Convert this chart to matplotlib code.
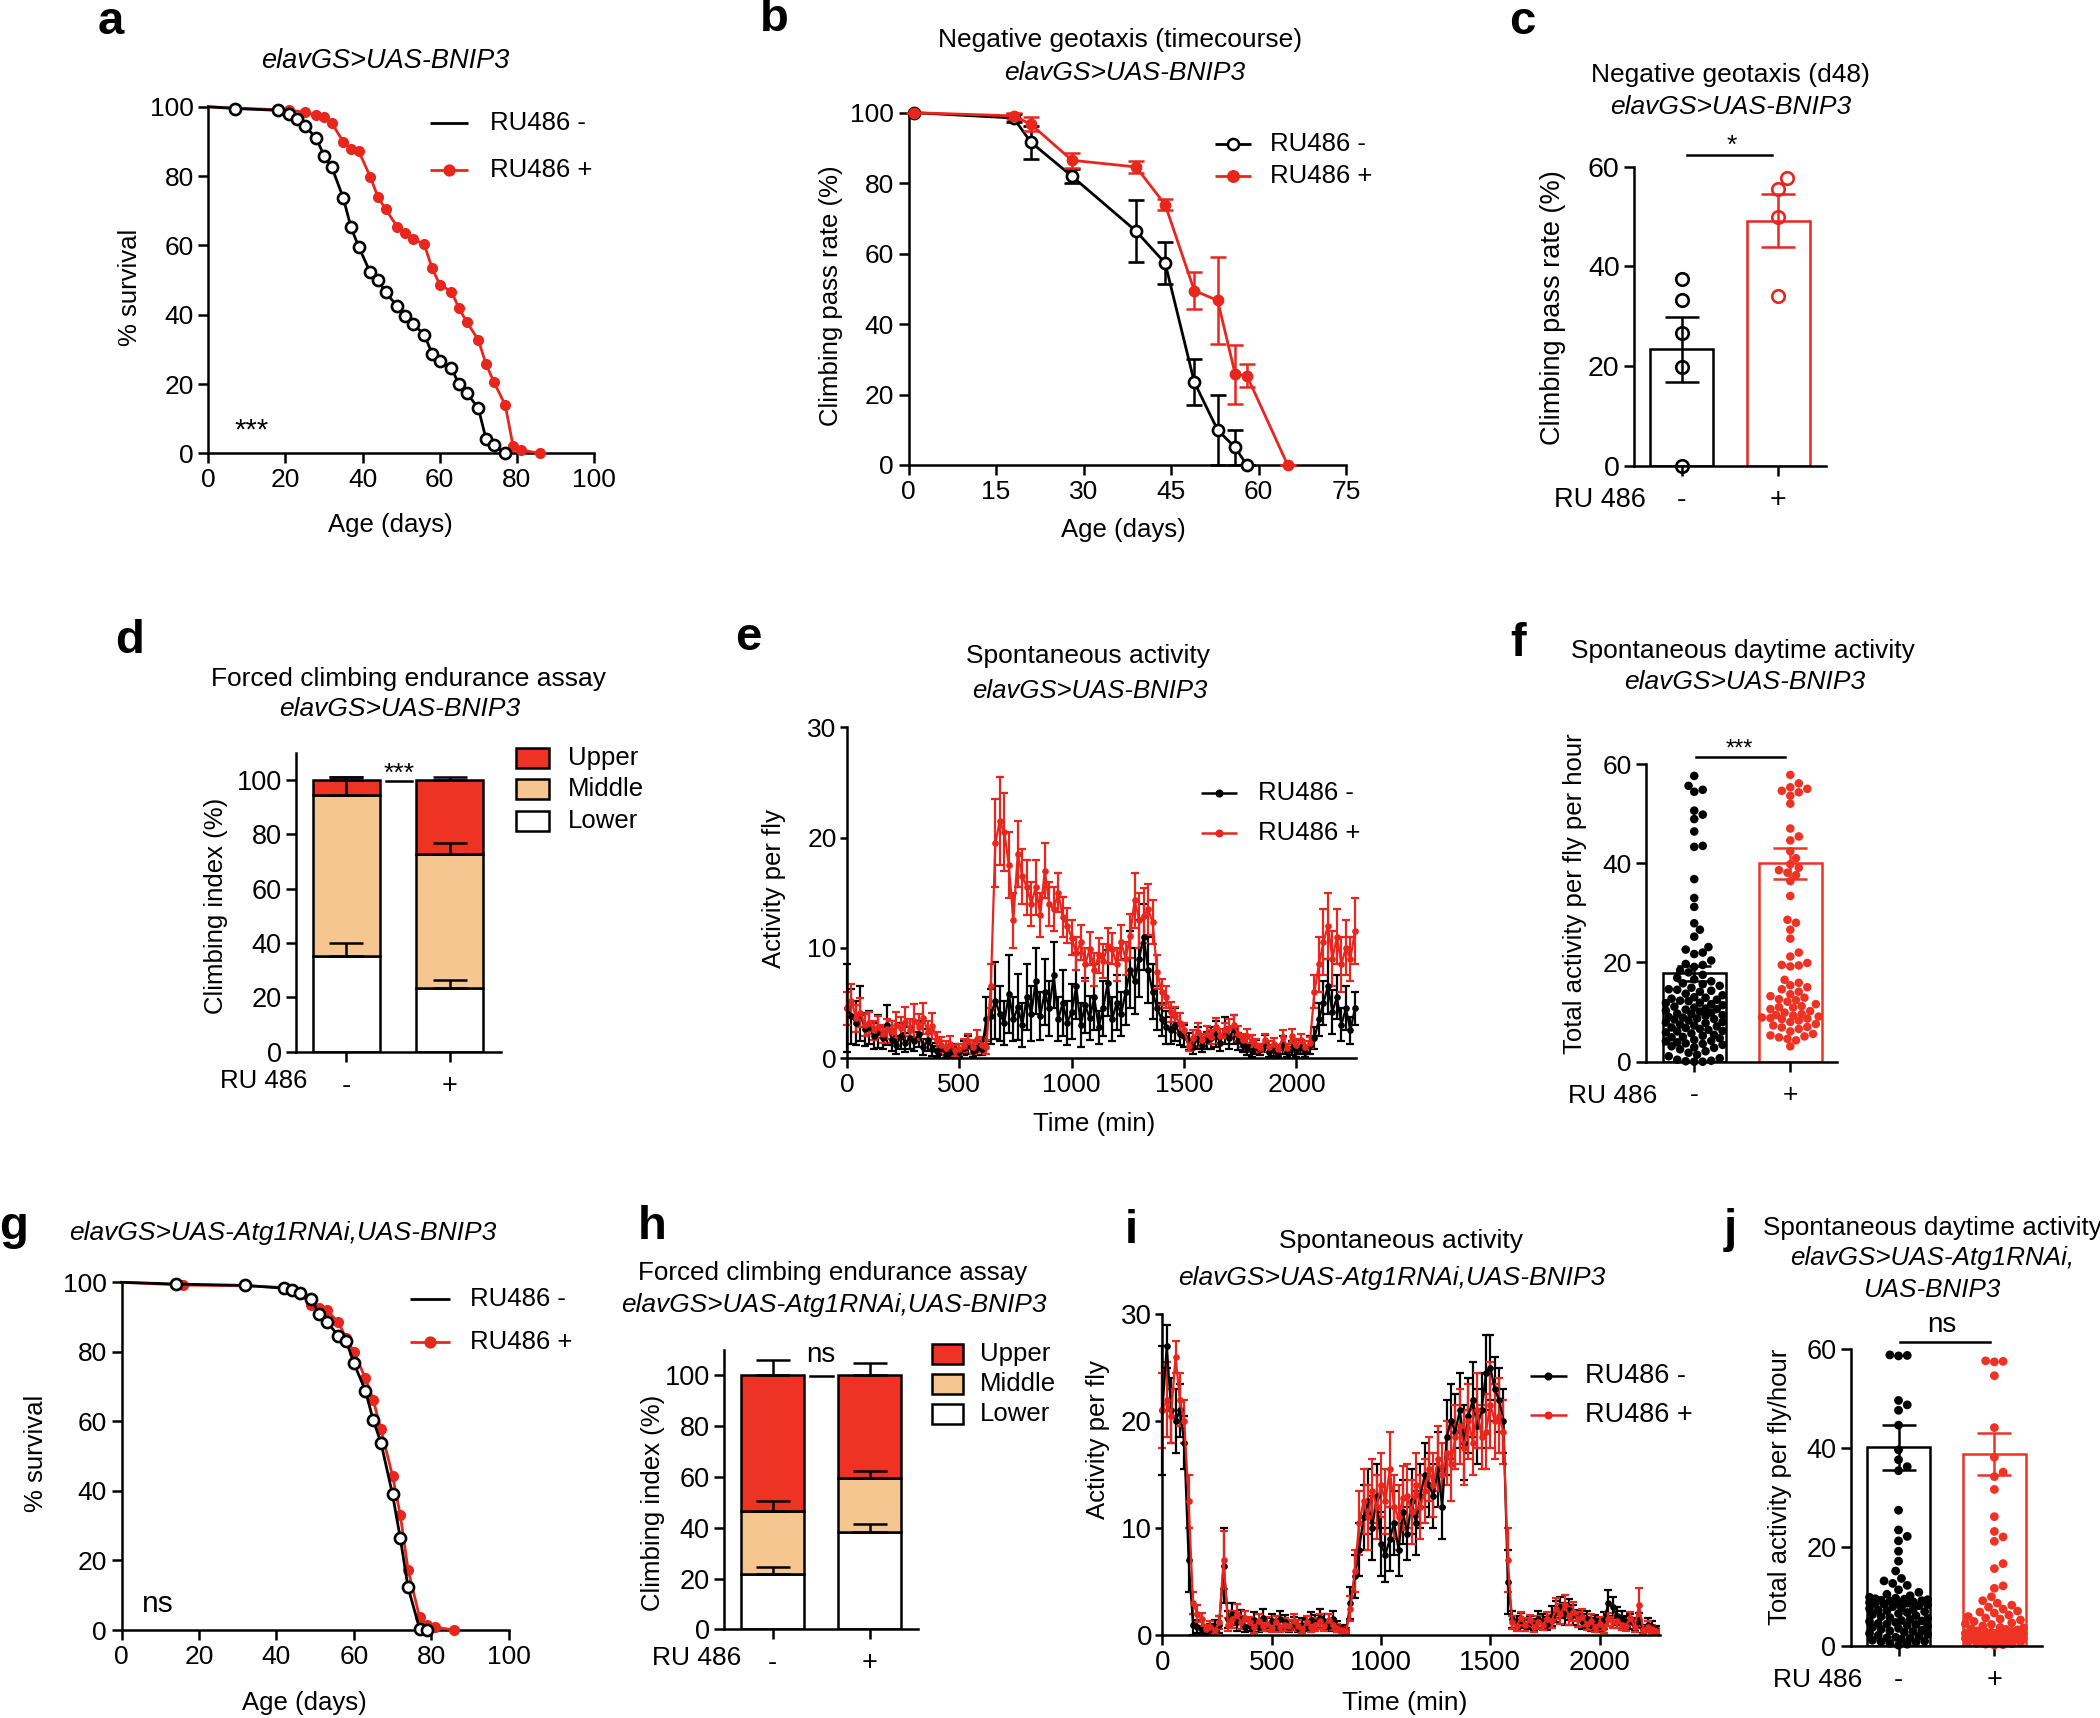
import numpy as np
import matplotlib
matplotlib.use("Agg")
import matplotlib.pyplot as plt
from matplotlib.lines import Line2D
from matplotlib.patches import Rectangle

# ======================= DATA =======================
# a: survival elavGS>UAS-BNIP3
a_day_ctrl = [0, 7, 18, 21, 23, 25, 28, 30, 32, 35, 37, 39, 42, 44, 46, 49, 51, 53, 56, 58,
              60, 63, 65, 67, 70, 72, 74, 77]
a_surv_ctrl = [100, 99.5, 99, 98, 96.5, 94.6, 90.9, 85.9, 82.6, 73.7, 65.2, 59.6, 52.2, 50, 46.5,
               42.4, 39.6, 37.4, 34.3, 28.8, 26.6, 24.7, 19.9, 17.4, 13.1, 4.2, 2.3, 0]
a_day_ru = [0, 21, 25, 28, 30, 32, 35, 37, 39, 42, 44, 46, 49, 51, 53, 56, 58, 60, 63, 65,
            67, 70, 72, 74, 77, 79, 81, 86]
a_surv_ru = [100, 99, 98.5, 97.5, 97, 95.3, 89.9, 87.9, 87.2, 79.8, 73.9, 70.4, 65.4, 63.6, 61.9,
             60.3, 53.5, 48.7, 46.7, 41.9, 37.9, 32.8, 25.8, 20.7, 13.9, 2.2, 1.0, 0]

# b: negative geotaxis timecourse
b_day_ctrl = [1, 18, 21, 28, 39, 44, 49, 53, 56, 58]
b_pass_ctrl = [100, 98.5, 91.6, 82.0, 66.4, 57.3, 23.5, 9.9, 5.0, 0]
b_err_ctrl = [0, 1.0, 4.7, 2.0, 8.7, 5.9, 6.5, 10.0, 5.0, 0]
b_day_ru = [1, 18, 21, 28, 39, 44, 49, 53, 56, 58, 65]
b_pass_ru = [100, 99.1, 96.7, 86.5, 84.6, 73.9, 49.5, 46.7, 25.8, 25.4, 0]
b_err_ru = [0, 0.8, 2.0, 2.1, 1.6, 1.5, 5.3, 12.4, 8.4, 3.4, 0]

# c: negative geotaxis d48
c_mean = [23.4, 49.2]
c_sem = [6.5, 5.35]
c_pts_ctrl = [37.4, 33.3, 26.6, 19.9, 0.0]
c_pts_ru = [55.5, 57.7, 50.0, 34.1]

# d: forced climbing (stacked)
d_lower = [35.2, 23.3]
d_middle = [59.2, 49.3]
d_upper = [5.6, 27.4]
d_lower_err = [4.7, 3.1]
d_middle_err = [6.7, 4.3]
d_upper_err = [1.0, 0.9]

# e: spontaneous activity time course (sampled every 20 min)
e_time = np.arange(0, 2261, 20)
e_ctrl = [4.5, 3.8, 3.2, 4.0, 2.6, 2.8, 2.0, 2.4, 1.8, 3.0,
          1.6, 1.2, 2.0, 1.4, 1.8, 1.5, 2.2, 1.0, 1.6, 0.8,
          0.6, 0.9, 0.3, 0.5, 0.8, 0.5, 0.9, 1.2, 0.6, 0.9,
          0.8, 3.5, 3.8, 5.2, 4.0, 3.2, 5.8, 3.5, 4.6, 3.0,
          5.5, 4.0, 7.0, 3.8, 6.0, 4.5, 7.5, 3.5, 5.0, 3.2,
          4.2, 6.5, 3.0, 4.8, 3.6, 5.5, 2.8, 4.5, 6.8, 3.5,
          5.0, 4.0, 6.0, 8.0, 7.0, 9.0, 11.0, 8.0, 6.0, 4.5,
          3.5, 2.8, 2.5, 3.0, 2.2, 2.0, 1.5, 1.0, 1.8, 1.2,
          1.6, 1.8, 2.2, 1.4, 2.5, 1.8, 2.6, 1.5, 1.2, 0.8,
          0.6, 1.0, 0.8, 1.3, 0.5, 0.7, 0.4, 1.2, 0.5, 0.9,
          0.6, 1.0, 0.5, 1.2, 1.8, 3.5, 5.0, 6.5, 4.2, 5.5,
          3.0, 4.5, 2.5, 4.5]
e_ctrl_err = [4.0, 2.5, 2.0, 2.5, 1.5, 1.5, 1.2, 1.5, 1.0, 1.8,
              1.0, 0.8, 1.2, 0.9, 1.0, 0.9, 1.2, 0.7, 1.0, 0.6,
              0.5, 0.6, 0.3, 0.4, 0.5, 0.4, 0.6, 0.8, 0.5, 0.6,
              0.5, 2.0, 2.5, 3.5, 2.5, 2.0, 3.5, 2.0, 3.0, 2.0,
              3.0, 2.5, 3.0, 2.2, 3.0, 2.5, 3.0, 2.0, 3.0, 2.0,
              2.5, 3.0, 2.0, 2.5, 2.0, 3.0, 1.5, 2.5, 3.0, 2.0,
              2.5, 2.0, 3.0, 3.5, 3.0, 3.5, 3.0, 3.0, 2.5, 2.0,
              1.5, 1.5, 1.2, 1.5, 1.0, 1.0, 0.8, 0.6, 1.0, 0.7,
              0.8, 1.0, 1.2, 0.8, 1.2, 1.0, 1.3, 0.8, 0.7, 0.5,
              0.5, 0.6, 0.5, 0.8, 0.4, 0.5, 0.3, 0.8, 0.4, 0.6,
              0.5, 0.6, 0.4, 0.8, 1.0, 1.5, 2.0, 2.5, 2.0, 2.0,
              1.5, 2.0, 1.2, 1.5]
e_ru = [4.5, 5.2, 3.6, 4.1, 3.0, 3.2, 2.5, 2.8, 2.2, 2.6,
        2.4, 3.0, 2.7, 3.3, 2.5, 3.4, 2.8, 3.6, 2.4, 2.9,
        1.6, 1.2, 0.9, 1.3, 0.7, 0.8, 1.1, 1.5, 1.0, 1.7,
        1.2, 1.0, 6.5, 19.5, 21.5, 20.5, 17.5, 12.5, 18.5, 16.5,
        15.5, 14.0, 15.5, 13.0, 17.0, 14.0, 13.5, 15.0, 12.8, 12.0,
        10.9, 9.5, 10.5, 8.5, 9.9, 8.0, 9.3, 8.8, 10.2, 9.9,
        8.5, 10.5, 9.0, 11.1, 14.3, 12.5, 12.9, 13.5, 12.3, 7.8,
        6.0, 5.5, 4.2, 3.8, 3.2, 2.5, 1.1, 1.8, 2.4, 1.6,
        2.2, 1.9, 2.8, 2.0, 2.5, 2.7, 3.0, 2.2, 1.6, 2.0,
        1.5, 1.2, 0.9, 1.6, 1.0, 1.3, 0.8, 1.9, 0.9, 2.0,
        1.2, 1.6, 1.0, 1.4, 6.0, 8.5, 10.5, 12.0, 9.0, 11.0,
        8.5, 10.0, 9.0, 11.5]
e_ru_err = [1.5, 1.5, 1.2, 1.3, 1.0, 1.0, 0.9, 1.0, 0.8, 0.9,
            1.0, 1.2, 1.0, 1.3, 1.0, 1.5, 1.2, 1.4, 1.0, 1.2,
            0.8, 0.7, 0.6, 0.7, 0.5, 0.5, 0.6, 0.7, 0.6, 0.8,
            0.7, 0.6, 2.0, 4.0, 4.0, 3.5, 3.0, 2.5, 3.0, 2.5,
            2.5, 2.0, 2.5, 2.0, 2.5, 2.0, 2.0, 1.8, 1.8, 1.6,
            1.6, 1.5, 1.6, 1.5, 1.5, 1.5, 1.6, 1.5, 1.6, 1.4,
            1.5, 1.6, 1.5, 2.0, 2.5, 2.5, 2.5, 2.3, 2.0, 1.5,
            1.2, 1.0, 0.9, 0.8, 0.9, 0.7, 0.5, 0.7, 0.8, 0.6,
            0.7, 0.6, 0.8, 0.6, 0.7, 0.8, 0.9, 0.7, 0.6, 0.6,
            0.6, 0.5, 0.4, 0.6, 0.5, 0.5, 0.4, 0.6, 0.4, 0.6,
            0.5, 0.6, 0.5, 0.5, 1.5, 2.5, 3.0, 3.0, 2.5, 2.5,
            2.5, 2.5, 2.0, 3.0]

# f: total daytime activity per fly per hour
f_mean = [17.8, 40.0]
f_sem = [1.5, 3.1]
f_pts_ctrl = [57.6, 55.6, 54.8, 54.4, 50.6, 49.8, 48.9, 46.4, 43.5, 43.3, 36.8, 33.0, 31.2,
              27.9, 26.6, 25.2, 23.1, 22.6, 22.0, 21.7, 20.4, 19.7, 19.5, 19.1, 18.4, 18.0,
              17.5, 16.9, 16.6, 16.2, 15.8, 15.3, 14.9, 14.6, 14.3, 14.1, 13.7, 13.4, 13.0,
              12.7, 12.5, 12.2, 11.9, 11.6, 11.4, 11.1, 10.9, 10.7, 10.5, 10.3, 10.1, 9.9,
              9.6, 9.4, 9.2, 8.9, 8.7, 8.5, 8.3, 8.0, 7.8, 7.5, 7.3, 7.1, 6.9, 6.6, 6.4,
              6.1, 5.9, 5.7, 5.4, 5.2, 4.9, 4.7, 4.4, 4.2, 3.9, 3.7, 3.4, 3.1, 2.8, 2.5,
              2.1, 1.8, 1.4, 1.1, 0.7, 0.4, 0.2, 0.1, 0.0, 0.0, 12.9, 11.8, 10.6, 9.7,
              7.9, 6.8, 5.0, 4.1, 14.5, 15.6, 3.6, 2.9, 12.3, 8.6, 6.2, 9.0]
f_pts_ru = [57.8, 56.1, 55.3, 55.0, 54.6, 54.3, 53.6, 52.0, 47.0, 45.4, 44.6, 42.4, 41.0,
            39.8, 39.1, 38.6, 38.1, 37.6, 36.4, 33.4, 28.6, 28.0, 26.6, 24.8, 22.0, 21.2,
            19.9, 19.5, 19.4, 19.2, 16.5, 15.9, 15.4, 15.0, 14.6, 14.1, 13.6, 13.2, 12.9,
            12.6, 12.1, 11.6, 11.2, 10.9, 10.6, 10.2, 9.9, 9.6, 9.3, 9.1, 8.9, 8.7, 8.6,
            8.3, 8.0, 7.6, 7.3, 7.0, 6.6, 6.1, 5.6, 5.3, 5.1, 4.9, 4.6, 4.3, 3.1, 9.4,
            8.8, 12.4, 11.0, 6.9]

# g: survival elavGS>UAS-Atg1RNAi,UAS-BNIP3
g_day_ctrl = [0, 14, 32, 42, 44, 46, 49, 51, 53, 56, 58, 60, 63, 65, 67, 70, 72, 74, 77, 79]
g_surv_ctrl = [100, 99.5, 99.1, 98.3, 97.7, 96.9, 95.2, 90.9, 88.7, 84.6, 83.2, 76.8, 68.8,
               60.4, 53.9, 39.0, 26.4, 12.3, 0.3, 0]
g_day_ru = [0, 16, 32, 42, 44, 46, 49, 51, 53, 56, 58, 60, 63, 65, 67, 70, 72, 74, 77, 79, 81, 86]
g_surv_ru = [100, 99.2, 99.0, 98.5, 98.0, 97.0, 93.5, 92.5, 92.0, 88.5, 84.0, 80.0, 72.4, 66.2,
             57.7, 44.3, 33.1, 17.4, 3.6, 1.4, 0.8, 0]

# h: forced climbing (stacked), Atg1RNAi
h_lower = [21.6, 38.4]
h_middle = [24.9, 21.2]
h_upper = [53.5, 40.4]
h_lower_err = [3.0, 2.9]
h_middle_err = [4.1, 2.9]
h_upper_err = [6.2, 4.9]

# i: spontaneous activity time course, Atg1RNAi (sampled every 20 min)
i_time = np.arange(0, 2261, 20)
i_ctrl = [21.0, 27.0, 21.0, 20.0, 21.0, 18.0, 7.0, 1.0, 0.8, 0.5,
          0.4, 0.6, 0.8, 1.0, 6.5, 1.5, 2.0, 1.2, 1.5, 0.8,
          1.0, 1.4, 0.8, 1.6, 1.0, 1.3, 0.9, 1.5, 1.2, 0.8,
          1.1, 0.7, 1.0, 0.9, 1.4, 1.2, 1.6, 1.3, 0.9, 1.5,
          0.8, 0.6, 0.4, 3.0, 5.5, 8.0, 11.0, 12.5, 10.0, 13.0,
          8.5, 7.5, 9.0, 10.5, 8.0, 11.5, 9.5, 12.5, 10.5, 13.0,
          15.0, 14.0, 13.0, 15.5, 12.0, 18.5, 20.0, 19.0, 21.0, 18.0,
          20.5, 22.0, 19.5, 21.0, 24.5, 25.0, 23.0, 22.0, 20.0, 5.0,
          1.5, 1.2, 1.4, 0.9, 1.2, 1.0, 1.5, 1.3, 1.1, 1.8,
          2.2, 2.6, 2.0, 2.4, 1.9, 1.6, 1.3, 1.5, 1.0, 1.2,
          0.9, 1.4, 3.0, 2.6, 1.8, 1.5, 1.2, 1.3, 1.0, 1.4,
          0.6, 1.0, 0.8, 0.5]
i_ctrl_err = [6.0, 2.0, 3.0, 3.0, 2.5, 2.5, 3.0, 1.0, 0.6, 0.4,
              0.4, 0.5, 0.6, 0.8, 3.5, 0.8, 1.0, 0.8, 0.9, 0.5,
              0.6, 0.8, 0.5, 0.9, 0.6, 0.7, 0.5, 0.8, 0.7, 0.5,
              0.6, 0.4, 0.6, 0.5, 0.8, 0.7, 0.9, 0.7, 0.5, 0.8,
              0.5, 0.4, 0.3, 1.5, 2.0, 2.5, 3.0, 3.0, 3.0, 3.0,
              3.0, 2.5, 3.0, 3.0, 2.5, 3.0, 2.5, 3.0, 3.0, 3.0,
              3.0, 3.0, 3.0, 3.5, 3.0, 3.5, 3.5, 3.5, 3.5, 3.5,
              3.5, 3.5, 3.5, 3.5, 3.5, 3.0, 3.0, 3.0, 3.0, 3.0,
              0.8, 0.6, 0.7, 0.5, 0.6, 0.5, 0.8, 0.7, 0.6, 0.9,
              1.0, 1.0, 1.0, 1.0, 0.9, 0.8, 0.7, 0.8, 0.6, 0.7,
              0.6, 0.8, 1.2, 1.0, 0.8, 0.8, 0.6, 0.7, 0.6, 0.7,
              0.4, 0.6, 0.5, 0.4]
i_ru = [21.0, 22.0, 20.5, 26.0, 22.0, 20.0, 12.5, 3.0, 2.0, 1.5,
        0.6, 0.8, 0.5, 1.2, 7.0, 1.0, 1.5, 2.0, 1.2, 1.6,
        1.2, 0.8, 1.3, 0.9, 1.1, 0.7, 1.2, 0.8, 1.0, 0.9,
        1.3, 0.9, 0.6, 1.2, 0.8, 1.0, 1.3, 0.9, 1.4, 1.0,
        0.7, 0.5, 0.3, 2.5, 6.0, 10.5, 12.5, 11.0, 13.5, 12.0,
        14.0, 12.5, 15.5, 12.0, 11.0, 12.8, 13.0, 11.5, 14.0, 12.0,
        13.5, 15.5, 14.0, 16.5, 15.0, 17.0, 16.0, 18.5, 19.5, 17.5,
        20.0, 18.0, 21.0, 18.5, 19.0, 21.5, 20.0, 20.5, 19.0, 7.0,
        1.2, 0.9, 1.6, 1.0, 1.4, 0.8, 1.2, 1.0, 1.5, 1.3,
        2.5, 2.0, 2.8, 1.8, 2.2, 1.5, 1.7, 1.1, 1.3, 0.8,
        1.1, 0.7, 1.5, 1.2, 1.3, 1.0, 0.9, 1.6, 0.8, 2.8,
        0.5, 0.8, 0.6, 0.4]
i_ru_err = [3.5, 3.5, 2.5, 1.5, 2.5, 2.0, 2.5, 1.0, 0.8, 0.6,
            0.4, 0.5, 0.4, 0.6, 2.7, 0.6, 0.8, 0.9, 0.6, 0.7,
            0.5, 0.6, 0.7, 0.5, 0.6, 0.4, 0.6, 0.5, 0.6, 0.5,
            0.7, 0.5, 0.4, 0.6, 0.5, 0.6, 0.7, 0.5, 0.6, 0.5,
            0.4, 0.3, 0.3, 1.2, 2.0, 3.0, 3.0, 3.0, 3.0, 3.0,
            3.0, 3.0, 3.5, 3.0, 3.0, 3.0, 3.0, 3.0, 3.0, 3.0,
            3.0, 3.0, 3.0, 3.0, 3.0, 3.0, 3.5, 3.0, 3.5, 3.5,
            3.5, 3.0, 3.5, 3.0, 3.5, 4.0, 3.5, 3.5, 3.0, 3.0,
            0.6, 0.5, 0.6, 0.6, 0.5, 0.5, 0.6, 0.5, 0.7, 0.6,
            1.0, 0.9, 1.0, 0.8, 0.9, 0.7, 0.8, 0.6, 0.7, 0.5,
            0.6, 0.5, 0.6, 0.5, 0.6, 0.5, 0.5, 0.6, 0.5, 1.6,
            0.4, 0.5, 0.4, 0.3]

# j: total daytime activity, Atg1RNAi
j_mean = [40.1, 38.8]
j_sem = [4.6, 4.3]
j_pts_ctrl = [58.8, 58.6, 58.7, 49.6, 48.7, 47.6, 44.6, 39.6, 37.6, 36.2, 35.4, 27.4, 23.4,
              22.1, 21.2, 19.1, 17.1, 15.1, 13.6, 13.1, 12.6, 12.2, 11.3, 10.8, 10.4, 10.1,
              9.8, 9.6, 9.4, 9.2, 9.0, 8.9, 8.7, 8.5, 8.3, 8.1, 7.9, 7.7, 7.5, 7.3, 7.1,
              6.9, 6.7, 6.5, 6.3, 6.1, 5.9, 5.7, 5.5, 5.3, 5.1, 4.9, 4.7, 4.5, 4.3, 4.1,
              3.9, 3.7, 3.5, 3.3, 3.1, 2.9, 2.7, 2.5, 2.3, 2.1, 1.9, 1.7, 1.5, 1.3, 1.1,
              0.9, 0.7, 0.5, 0.3, 0.1, 9.3, 8.8, 8.6, 9.5, 9.1, 8.4, 7.2, 5.0, 4.4, 3.0,
              1.6, 0.8]
j_pts_ru = [57.6, 57.4, 57.5, 54.6, 44.1, 38.1, 35.1, 34.2, 31.6, 26.1, 23.1, 22.0, 21.1,
            16.6, 15.6, 12.1, 11.6, 9.9, 9.1, 8.6, 8.2, 7.8, 7.4, 7.0, 6.6, 6.2, 5.9, 5.6,
            5.2, 4.9, 4.6, 4.3, 4.0, 3.7, 3.4, 3.2, 3.0, 2.8, 2.6, 2.4, 2.2, 2.0, 1.8,
            1.6, 1.4, 1.2, 1.0, 0.8, 0.6, 0.4, 0.3, 0.2, 0.1, 2.7, 2.5, 2.3, 1.9, 1.5,
            1.1, 0.7, 3.3, 2.9, 2.1, 1.7, 1.3, 0.9, 0.5, 6.8, 5.4, 4.4, 3.6]

groups = ['-', '+']
series_names = ['RU486 -', 'RU486 +']
stack_names = ['Upper', 'Middle', 'Lower']

# ======================= STYLE / LAYOUT =======================
W, H, DPI = 2100, 1718, 100
plt.rcParams['font.family'] = ['Liberation Sans', 'DejaVu Sans']
plt.rcParams['mathtext.default'] = 'regular'
RED = '#e8261e'
BAR_RED = '#ee3224'
PEACH = '#f6c690'
LW = 1.8
TICK = 19      # tick label size
TITLE = 19     # panel title size
LAB = 18.5     # axis label size
LET = 34       # panel letter size

fig = plt.figure(figsize=(W / DPI, H / DPI), dpi=DPI)
fig.patch.set_facecolor('white')


def add_ax(x0, x1, yb, yt, xlim, ylim, labelsize=TICK):
    ax = fig.add_axes([x0 / W, 1 - yb / H, (x1 - x0) / W, (yb - yt) / H])
    ax.set_xlim(*xlim)
    ax.set_ylim(*ylim)
    for s in ('top', 'right'):
        ax.spines[s].set_visible(False)
    for s in ('left', 'bottom'):
        ax.spines[s].set_linewidth(LW)
    ax.patch.set_visible(False)
    ax.tick_params(direction='out', length=7, width=LW, pad=3.5, labelsize=labelsize)
    return ax


def T(x, y, s, size, ha='center', va='center', **kw):
    fig.text(x / W, 1 - y / H, s, fontsize=size, ha=ha, va=va, **kw)


def leg_line(x0, x1, y, color, lw=2.0, marker=None, mfc=None, ms=7, mew=1.8):
    fig.add_artist(Line2D([x0 / W, x1 / W], [1 - y / H] * 2, transform=fig.transFigure,
                          color=color, lw=lw, solid_capstyle='butt'))
    if marker:
        fig.add_artist(Line2D([(x0 + x1) / 2 / W], [1 - y / H], transform=fig.transFigure,
                              ls='none', marker=marker, ms=ms, mfc=mfc, mec=color, mew=mew))


def leg_patch(x0, x1, yc, h, color):
    fig.add_artist(Rectangle((x0 / W, 1 - (yc + h / 2) / H), (x1 - x0) / W, h / H,
                             transform=fig.transFigure, facecolor=color,
                             edgecolor='black', lw=LW))


def noclip(container):
    for art in container.get_children():
        art.set_clip_on(False)


def swarm(ax, values, center, diam_px, max_half_px):
    bbox = ax.get_window_extent()
    xl, yl = ax.get_xlim(), ax.get_ylim()
    px = bbox.width / (xl[1] - xl[0])
    py = bbox.height / (yl[1] - yl[0])
    vals = np.asarray(values, float)
    order = np.argsort(vals, kind='stable')
    step = diam_px / 3.0
    cands = [0.0]
    k = 1
    while k * step <= max_half_px:
        cands += [k * step, -k * step]
        k += 1
    placed = []
    offs = np.zeros(len(vals))
    for idx in order:
        yp = vals[idx] * py
        best, best_c, best_score = None, 0.0, -1
        for c in cands:
            if placed:
                arr = np.array(placed)
                dmin = np.min(np.hypot(arr[:, 0] - c, arr[:, 1] - yp))
            else:
                dmin = 1e9
            if dmin >= diam_px * 0.92:
                best = c
                break
            if dmin > best_score:
                best_score, best_c = dmin, c
        if best is None:
            best = best_c
        placed.append((best, yp))
        offs[idx] = best / px
    return center + offs


def survival(ax, day_ctrl, surv_ctrl, day_ru, surv_ru):
    ax.plot(day_ru, surv_ru, color=RED, lw=2, marker='o', ms=7, mfc=RED, mec=RED,
            markevery=list(range(1, len(day_ru))), clip_on=False, zorder=3)
    ax.plot(day_ctrl, surv_ctrl, color='black', lw=2, marker='o', ms=8, mfc='white',
            mec='black', mew=1.9, markevery=list(range(1, len(day_ctrl))), clip_on=False, zorder=4)
    ax.set_xticks(range(0, 101, 20))
    ax.set_yticks(range(0, 101, 20))


def stacked(ax, lower, middle, upper, le, me, ue, width):
    x = np.arange(len(lower))
    lower, middle, upper = map(np.asarray, (lower, middle, upper))
    ax.bar(x, lower, width, color='white', edgecolor='black', lw=LW, zorder=2)
    ax.bar(x, middle, width, bottom=lower, color=PEACH, edgecolor='black', lw=LW, zorder=2)
    ax.bar(x, upper, width, bottom=lower + middle, color=BAR_RED, edgecolor='black', lw=LW, zorder=2)
    z = np.zeros(len(x))
    for tops, err in ((lower, le), (lower + middle, me), (lower + middle + upper, ue)):
        c = ax.errorbar(x, tops, yerr=[z, err], fmt='none', ecolor='black', elinewidth=LW,
                        capsize=12, capthick=LW, zorder=3)
        noclip(c)
    ax.set_xticks(x)
    ax.set_xticklabels(groups)
    ax.set_yticks(range(0, 101, 20))


def timecourse(ax, t, yc, ec, yr, er):
    for y, e, col in ((yc, ec, 'black'), (yr, er, RED)):
        c = ax.errorbar(t, y, yerr=e, color=col, lw=1.6, marker='o', ms=3.8, mec=col, mfc=col,
                        ecolor=col, elinewidth=1.6, capsize=2.8, capthick=1.6)
        noclip(c)
    ax.set_xticks([0, 500, 1000, 1500, 2000])
    ax.set_yticks([0, 10, 20, 30])


def dotbar(ax, means, sems, pts_c, pts_r, width, diam, half, ms):
    cols = ['black', BAR_RED]
    for k in range(2):
        ax.bar(k, means[k], width, color='white', edgecolor=cols[k], lw=LW, zorder=1)
    for k, pts in enumerate((pts_c, pts_r)):
        xs = swarm(ax, pts, k, diam, half)
        ax.scatter(xs, pts, s=ms, color=cols[k], edgecolors='none', zorder=2, clip_on=False)
    for k in range(2):
        c = ax.errorbar(k, means[k], yerr=sems[k], fmt='none', ecolor=cols[k], elinewidth=LW,
                        capsize=12, capthick=LW, zorder=3)
        noclip(c)
    ax.set_xticks([0, 1])
    ax.set_xticklabels(groups)
    ax.set_yticks([0, 20, 40, 60])


# ---------------- a ----------------
ax = add_ax(208.3, 594, 453.4, 106.8, (0, 100), (0, 100))
survival(ax, a_day_ctrl, a_surv_ctrl, a_day_ru, a_surv_ru)
T(111, 22, 'a', LET, weight='bold')
T(385, 61, 'elavGS>UAS-BNIP3', 19.5, style='italic')
T(130, 287, '% survival', LAB, rotation=90)
T(390, 525, 'Age (days)', LAB)
T(252, 431, '***', 21)
leg_line(430, 468, 122.5, 'black')
leg_line(430, 468, 170, RED, marker='o', mfc=RED, ms=7)
T(490, 122.5, series_names[0], 18.5, ha='left')
T(490, 170, series_names[1], 18.5, ha='left')

# ---------------- b ----------------
ax = add_ax(908.5, 1346, 465, 112.7, (0, 75), (0, 100))
c = ax.errorbar(b_day_ctrl, b_pass_ctrl, yerr=b_err_ctrl, color='black', lw=2, marker='o', ms=8,
                mfc='white', mec='black', mew=1.9, ecolor='black', elinewidth=1.8, capsize=5.5,
                capthick=1.8, zorder=3)
noclip(c)
c = ax.errorbar(b_day_ru, b_pass_ru, yerr=b_err_ru, color=RED, lw=2, marker='o', ms=7.5,
                mfc=RED, mec=RED, ecolor=RED, elinewidth=1.8, capsize=5.5, capthick=1.8, zorder=4)
noclip(c)
ax.set_xticks(range(0, 76, 15))
ax.set_yticks(range(0, 101, 20))
T(774, 19, 'b', LET, weight='bold')
T(1120, 39.6, 'Negative geotaxis (timecourse)', TITLE)
T(1125, 73.5, 'elavGS>UAS-BNIP3', TITLE, style='italic')
T(831, 296, 'Climbing pass rate (%)', LAB, rotation=90)
T(1123, 530, 'Age (days)', LAB)
leg_line(1215, 1251, 143.6, 'black', marker='o', mfc='white', ms=8)
leg_line(1215, 1251, 176, RED, marker='o', mfc=RED, ms=7.5)
T(1270, 143.6, series_names[0], 18.5, ha='left')
T(1270, 176, series_names[1], 18.5, ha='left')

# ---------------- c ----------------
ax = add_ax(1634.3, 1826, 466, 166.7, (-0.49, 1.494), (0, 60), 20.5)
cols = ['black', RED]
for k in range(2):
    ax.bar(k, c_mean[k], 0.652, color='white', edgecolor=cols[k], lw=LW, zorder=1)
    cc = ax.errorbar(k, c_mean[k], yerr=c_sem[k], fmt='none', ecolor=cols[k], elinewidth=LW,
                     capsize=12, capthick=LW, zorder=3)
    noclip(cc)
for k, pts in enumerate((c_pts_ctrl, c_pts_ru)):
    xs = swarm(ax, pts, k, 13, 20)
    ax.plot(xs, pts, ls='none', marker='o', ms=9, mfc='none', mec=cols[k], mew=1.9,
            clip_on=False, zorder=4)
ax.set_xticks([0, 1])
ax.set_xticklabels(groups)
ax.set_yticks([0, 20, 40, 60])
ax.tick_params(axis='x', pad=8)
ax.plot([0.06, 0.94], [62.3, 62.3], color='black', lw=LW, clip_on=False)
T(1732, 146, '*', 19)
T(1522, 22, 'c', LET, weight='bold')
T(1730, 75, 'Negative geotaxis (d48)', TITLE)
T(1731, 107, 'elavGS>UAS-BNIP3', TITLE, style='italic')
T(1553, 308, 'Climbing pass rate (%)', 19.5, rotation=90)
T(1646, 500, 'RU 486', 19.5, ha='right')

# ---------------- d ----------------
ax = add_ax(296.4, 500.5, 1051.7, 752.7, (-0.483, 1.489), (0, 110), 19.5)
stacked(ax, d_lower, d_middle, d_upper, d_lower_err, d_middle_err, d_upper_err, 0.647)
ax.tick_params(axis='x', pad=8)
ax.plot([0.38, 0.63], [99.6, 99.6], color='black', lw=LW, clip_on=False)
T(399, 774, '***', 19)
T(130, 641, 'd', LET, weight='bold')
T(408.6, 679.3, 'Forced climbing endurance assay', TITLE)
T(400, 709.3, 'elavGS>UAS-BNIP3', TITLE, style='italic')
T(215.7, 906, 'Climbing index (%)', LAB, rotation=90)
T(307, 1081, 'RU 486', 18.5, ha='right')
for name, col, yc in zip(stack_names, [BAR_RED, PEACH, 'white'], [757.7, 789.3, 821]):
    leg_patch(516.3, 549, yc, 20, col)
    T(567.5, yc, name, 18.5, ha='left')

# ---------------- e ----------------
ax = add_ax(847, 1356, 1058, 727.3, (0, 2265), (0, 30), 19)
ax.tick_params(axis='y', length=5, pad=2.5)
timecourse(ax, e_time, e_ctrl, e_ctrl_err, e_ru, e_ru_err)
T(748, 638, 'e', LET, weight='bold')
T(1088, 655.7, 'Spontaneous activity', TITLE)
T(1090, 690.7, 'elavGS>UAS-BNIP3', 18.5, style='italic')
T(773.7, 889, 'Activity per fly', LAB, rotation=90)
T(1094, 1124, 'Time (min)', LAB)
leg_line(1201, 1237, 793.3, 'black', lw=1.8, marker='o', mfc='black', ms=4)
leg_line(1201, 1237, 833, RED, lw=1.8, marker='o', mfc=RED, ms=4)
T(1257.6, 793.3, series_names[0], 18.5, ha='left')
T(1257.6, 833, series_names[1], 18.5, ha='left')

# ---------------- f ----------------
ax = add_ax(1646.2, 1836.8, 1061.7, 764, (-0.5, 1.484), (0, 60), 19)
dotbar(ax, f_mean, f_sem, f_pts_ctrl, f_pts_ru, 0.658, 8.5, 31, 38)
ax.tick_params(axis='x', pad=8)
ax.plot([0.02, 0.94], [61.5, 61.5], color='black', lw=LW, clip_on=False)
T(1739, 750, '***', 17)
T(1518, 644, 'f', LET, weight='bold')
T(1743, 650.7, 'Spontaneous daytime activity', TITLE)
T(1745, 682, 'elavGS>UAS-BNIP3', TITLE, style='italic')
T(1574.6, 894, 'Total activity per fly per hour', 18.5, rotation=90)
T(1657, 1095.7, 'RU 486', 19, ha='right')

# ---------------- g ----------------
ax = add_ax(121.5, 508.7, 1630, 1282.3, (0, 100), (0, 100))
survival(ax, g_day_ctrl, g_surv_ctrl, g_day_ru, g_surv_ru)
T(14, 1227, 'g', LET, weight='bold')
T(69.6, 1233.3, 'elavGS>UAS-Atg1RNAi,UAS-BNIP3', 19, ha='left', style='italic')
T(35.7, 1453, '% survival', LAB, rotation=90)
T(304.7, 1703, 'Age (days)', LAB)
T(158, 1604, 'ns', 21.5)
leg_line(410, 450, 1299.3, 'black')
leg_line(410, 450, 1342.3, RED, marker='o', mfc=RED, ms=7)
T(470, 1299.3, series_names[0], 18.5, ha='left')
T(470, 1342.3, series_names[1], 18.5, ha='left')

# ---------------- h ----------------
ax = add_ax(724.3, 917.7, 1629.3, 1350, (-0.5, 1.495), (0, 110), 19.5)
stacked(ax, h_lower, h_middle, h_upper, h_lower_err, h_middle_err, h_upper_err, 0.65)
ax.tick_params(axis='x', pad=8)
ax.plot([0.38, 0.62], [99.6, 99.6], color='black', lw=LW, clip_on=False)
T(821, 1355, 'ns', 20)
T(652, 1227, 'h', LET, weight='bold')
T(832.7, 1273, 'Forced climbing endurance assay', 18.7)
T(834, 1305, 'elavGS>UAS-Atg1RNAi,UAS-BNIP3', 18.9, style='italic')
T(653, 1503, 'Climbing index (%)', 18.5, rotation=90)
T(741, 1658, 'RU 486', 19, ha='right')
for name, col, yc in zip(stack_names, [BAR_RED, PEACH, 'white'], [1354.3, 1384.3, 1414]):
    leg_patch(931.7, 963.3, yc, 20, col)
    T(980, yc, name, 18.5, ha='left')

# ---------------- i ----------------
ax = add_ax(1162.4, 1660.2, 1635.3, 1314, (0, 2277), (0, 30), 20)
ax.tick_params(axis='y', length=5, pad=2.5)
timecourse(ax, i_time, i_ctrl, i_ctrl_err, i_ru, i_ru_err)
T(1131, 1231, 'i', LET, weight='bold')
T(1401, 1241.3, 'Spontaneous activity', TITLE)
T(1392, 1278, 'elavGS>UAS-Atg1RNAi,UAS-BNIP3', TITLE, style='italic')
T(1098, 1440, 'Activity per fly', LAB, rotation=90)
T(1405, 1703, 'Time (min)', 19)
leg_line(1530, 1566.5, 1375.7, 'black', lw=1.8, marker='o', mfc='black', ms=4)
leg_line(1530, 1566.5, 1414.7, RED, lw=1.8, marker='o', mfc=RED, ms=4)
T(1585, 1375.7, series_names[0], 19.5, ha='left')
T(1585, 1414.7, series_names[1], 19.5, ha='left')

# ---------------- j ----------------
ax = add_ax(1851, 2042, 1645.7, 1349, (-0.496, 1.497), (0, 60), 19.5)
dotbar(ax, j_mean, j_sem, j_pts_ctrl, j_pts_ru, 0.655, 8.7, 31, 40)
ax.tick_params(axis='x', pad=8)
ax.plot([0.02, 0.95], [61.4, 61.4], color='black', lw=LW, clip_on=False)
T(1942, 1325, 'ns', 20)
T(1730, 1230, 'j', LET, weight='bold')
T(1932, 1228, 'Spontaneous daytime activity', 18.7)
T(1932, 1258.3, 'elavGS>UAS-Atg1RNAi,', 18.7, style='italic')
T(1932, 1290, 'UAS-BNIP3', 18.7, style='italic')
T(1780, 1487, 'Total activity per fly/hour', 18.5, rotation=90)
T(1862, 1680, 'RU 486', 19, ha='right')

fig.savefig('out.png', dpi=DPI, facecolor='white')
